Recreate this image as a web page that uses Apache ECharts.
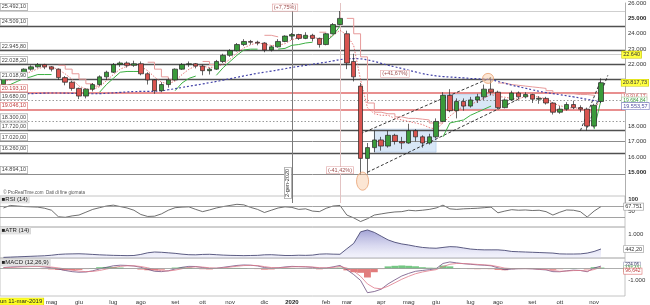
<!DOCTYPE html>
<html lang="it">
<head>
<meta charset="utf-8">
<title>FTSE MIB</title>
<script src="https://cdn.jsdelivr.net/npm/echarts@6.0.0/dist/echarts.min.js"></script>
<style>
html,body{margin:0;padding:0;background:#fff;overflow:hidden}
#chart{width:650px;height:305px}
</style>
</head>
<body>
<div id="chart"></div>
<script>
// ---------- DATA (weekly) ----------
const weeks = ['2019-03-11','2019-03-18','2019-03-25','2019-04-01','2019-04-08','2019-04-15','2019-04-22','2019-04-29','2019-05-06','2019-05-13','2019-05-20','2019-05-27','2019-06-03','2019-06-10','2019-06-17','2019-06-24','2019-07-01','2019-07-08','2019-07-15','2019-07-22','2019-07-29','2019-08-05','2019-08-12','2019-08-19','2019-08-26','2019-09-02','2019-09-09','2019-09-16','2019-09-23','2019-09-30','2019-10-07','2019-10-14','2019-10-21','2019-10-28','2019-11-04','2019-11-11','2019-11-18','2019-11-25','2019-12-02','2019-12-09','2019-12-16','2019-12-23','2019-12-30','2020-01-06','2020-01-13','2020-01-20','2020-01-27','2020-02-03','2020-02-10','2020-02-17','2020-02-24','2020-03-02','2020-03-09','2020-03-16','2020-03-23','2020-03-30','2020-04-06','2020-04-13','2020-04-20','2020-04-27','2020-05-04','2020-05-11','2020-05-18','2020-05-25','2020-06-01','2020-06-08','2020-06-15','2020-06-22','2020-06-29','2020-07-06','2020-07-13','2020-07-20','2020-07-27','2020-08-03','2020-08-10','2020-08-17','2020-08-24','2020-08-31','2020-09-07','2020-09-14','2020-09-21','2020-09-28','2020-10-05','2020-10-12','2020-10-19','2020-10-26','2020-11-02','2020-11-09'];
const padWeeks = ['2020-11-16','2020-11-23','2020-11-30'];

const opens = [20700,21100,21250,21350,21700,21850,22000,21850,21700,21150, 20850,20450,19950,20400,20700,21200,21500,22000,22100,21950, 22050,21400,21000,20300,20700,21000,21700,22000,22050,21900, 21600,21700,22200,22600,22900,23300,23500,23450,23400,22950, 23150,23500,23850,23950,23700,23900,23700,23300,24000,24600, 24000,22200,20600,15900,16600,17100,16700,17400,17000,16900, 17700,17300,16900,17300,18300,20000,19000,19600,19300,19700, 19900,20400,20200,19200,19700,20150,19900,20050,19750,19800, 19500,18900,19100,19400,19200,19100,18000,19600];
const closes = [21100,21250,21350,21700,21850,22000,21850,21700,21150,20850, 20450,19950,20400,20700,21200,21500,22000,22100,21950,22050, 21400,21000,20300,20700,21000,21700,22000,22050,21900,21600, 21700,22200,22600,22900,23300,23500,23450,23400,22950,23150, 23500,23850,23950,23700,23900,23700,23300,24000,24600,25000, 22100,21200,15900,16600,17100,16700,17400,17000,16900,17700, 17300,16900,17300,18300,20000,19000,19600,19300,19700,19900, 20400,20200,19200,19700,20150,19900,20050,19750,19800,19500, 18900,19100,19400,19200,19100,18000,19350,20817.73];
const lows = [20650,21000,21000,21300,21600,21800,21700,21550,21000,20650, 20300,19750,19800,20250,20600,21000,21450,21850,21800,21850, 21300,20700,20100,20200,20500,20950,21650,21850,21750,21300, 21350,21650,22100,22500,22850,23200,23300,23250,22800,22850, 23100,23450,23600,23600,23650,23500,23100,23250,23950,24550, 21700,20900,14850,14900,16300,16400,16600,16800,16500,16850, 17000,16600,16800,17200,18250,18900,18500,19000,19200,19500, 19700,20000,19100,19150,19650,19750,19800,19500,19450,19400, 18750,18800,19000,19100,18900,17700,17900,19500];
const highs = [21150,21400,21450,21750,21950,22100,22050,21900,21750,21250, 20950,20500,20450,20800,21300,21600,22100,22200,22200,22250, 22200,21500,21050,20850,21100,21750,22100,22200,22100,22000, 21800,22300,22700,23000,23400,23650,23600,23550,23450,23250, 23650,23900,24050,24000,24100,24000,23750,24050,24700,25480, 24200,22700,20800,16900,17700,17300,17700,17500,17300,18150, 17800,17400,17500,18500,20200,20400,19800,19800,19900,20100, 20700,21100,20300,19800,20300,20250,20200,20100,19950,19900, 19550,19300,19550,19650,19350,19200,19450,21100];

// trailing stop below price (green) and above price (red)
const trailUp = [20600,20700,20900,21100,21200,21350,21350,21350,null,null, null,null,null,null,20200,20700,21100,21500,21550,21550, 21550,null,null,null,null,20300,20800,21100,21250,null, null,21300,21800,22200,22600,22950,23000,23000,null,null, 23000,23050,23250,23300,23400,23450,null,23500,23900,24500, null,null,null,null,null,null,null,null,null,null, null,null,null,null,17300,18200,18300,18400,18700,18900, 19100,19300,null,null,null,null,null,null,null,null, null,null,null,null,null,null,17800,19684.84];
const trailDown = [null,null,null,null,null,null,null,null,21950,21700, 21400,21050,20750,20600,null,null,null,null,null,null, null,22150,21700,21200,21000,null,null,null,null,22200, 22000,null,null,null,null,null,null,null,23900,23800, null,null,null,null,null,null,24100,null,null,null, 25000,24000,22500,19500,18900,18800,18800,18600,18500,18500, 18450,18400,18200,18200,null,null,null,null,null,null, null,null,20800,20700,20650,20600,20550,20500,20450,20300, 20150,20100,20100,20050,20050,20000,null,null];
// short red dotted average
const maShort = [20900,21000,21100,21350,21540,21725,21850,21850,21675,21390, 21040,20600,20410,20375,20560,20950,21350,21700,21890,22025, 21875,21600,21190,20850,20750,20925,21350,21690,21910,21890, 21810,21850,22025,22350,22750,23075,23290,23410,23325,23240, 23250,23360,23610,23750,23850,23810,23650,23725,23900,24225, 23925,23225,21000,19200,18800,18700,18700,18500,18400,18300, 18200,18100,17900,17800,18200,18650,19000,19300,19400,19600, 19825,20050,19925,19875,19800,19740,19950,19960,19875,19775, 19490,19325,19225,19150,19200,18925,18910,19916.17];
// long blue dotted average
const maLong = [20020,20040,20070,20090,20110,20120,20140,20150,20150,20140, 20130,20120,20110,20100,20110,20130,20160,20190,20220,20240, 20250,20250,20260,20300,20360,20430,20510,20590,20660,20740, 20820,20900,20990,21080,21170,21260,21350,21430,21500,21570, 21650,21730,21810,21880,21950,22020,22090,22160,22240,22320, 22370,22380,22370,22300,22200,22080,21960,21850,21740,21630, 21520,21410,21330,21260,21220,21190,21160,21130,21100,21080, 21050,21020,20900,20780,20660,20560,20460,20360,20260,20180, 20110,20040,19970,19900,19820,19740,19660,19553.57];

const rsi = [63,72,70,68,67,66,62,55,32,30, 35,38,48,58,64,70,73,68,63,55, 40,33,34,42,55,64,66,67,58,50, 56,63,68,72,76,74,65,58,47,55, 63,67,65,58,60,52,50,62,70,72, 38,28,15,25,38,42,46,49,50,55, 53,55,58,63,73,60,58,60,61,62, 64,66,46,52,57,55,56,54,55,50, 38,48,56,55,50,31,52,67.751];
const atr = [130,140,150,160,170,180,190,210,240,255, 260,265,255,240,225,215,205,200,195,200, 240,300,330,320,300,280,250,230,225,240, 245,230,215,205,200,195,200,205,225,230, 215,200,200,210,205,215,250,260,250,245, 450,650,1080,1150,1060,920,780,690,630,590, 540,500,480,470,500,530,520,480,440,420, 410,410,410,390,350,340,330,320,310,300, 290,260,255,255,260,290,350,442.2];
const macd = [100,150,180,200,210,200,150,80,-30,-150, -250,-300,-280,-180,-20,120,250,300,280,230, 120,-50,-220,-250,-180,-20,120,200,190,100, 20,40,120,200,280,320,300,240,100,40, 80,150,200,180,160,120,40,60,160,280, -80,-500,-1000,-2050,-1950,-1750,-1300,-950,-620,-400, -220,-150,-80,0,450,580,500,430,380,330, 300,250,80,-80,-30,0,10,-10,-60,-100, -250,-260,-180,-120,-150,-260,60,224.06];
const macdSignal = [80,110,140,165,185,195,180,140,70,-20, -120,-200,-250,-230,-150,-30,100,200,250,250, 190,80,-70,-170,-190,-120,0,110,160,140, 80,50,80,140,210,270,290,270,180,100, 80,110,160,175,170,145,90,70,110,190, 60,-200,-650,-1300,-1650,-1720,-1500,-1200,-900,-650, -430,-280,-170,-80,180,380,450,440,410,370, 330,290,180,50,10,5,5,0,-30,-70, -160,-220,-200,-160,-150,-200,-70,127.42];
const macdHist = [20,40,40,35,25,5,-30,-60,-100,-130, -130,-100,-30,50,130,150,150,100,30,-20, -70,-130,-150,-80,10,100,120,90,30,-40, -60,-10,40,60,70,50,10,-30,-80,-60, 0,40,40,5,-10,-25,-50,-10,50,90, -140,-300,-350,-750,-300,-30,200,250,280,250, 210,130,90,80,270,200,50,-10,-30,-40, -30,-40,-100,-130,-40,-5,5,-10,-30,-30, -90,-40,20,40,0,-60,130,96.642];

// horizontal levels
const levelValues = [25492.10, 24509.10, 22945.80, 22640.00, 22028.20, 21018.90, 20193.10, 19680.00, 19046.10, 18300.00, 17720.00, 17020.00, 16260.00, 14894.10];
const levelTexts  = ['25.492,10','24.509,10','22.945,80','','22.028,20','21.018,90','20.193,10','19.680,00','19.046,10','18.300,00','17.720,00','17.020,00','16.260,00','14.894,10'];
const levelKinds  = ['light','dark','dark','light','dark','dark','red','dot','red','dot','dark','mid','dark','mid'];

// x-axis month ticks
const tickIdx  = [7,11,16,20,25,29,33,38,42,47,50,55,59,63,68,72,77,81,86];
const tickText = ['mag','giu','lug','ago','set','ott','nov','dic','2020','feb','mar','apr','mag','giu','lug','ago','set','ott','nov'];

// trend lines [fromIdx, fromVal, toIdx, toVal]
const trendLines = [[52,17500,71,21150],[53,15000,75,19750],[84,17700,87,21000],[85,17900,88,21300]];
const zones = [[54,17800,63,16300],[64,20050,72,19100]];

// ---------- CHART ----------
const FONT = '"Liberation Sans", Arial, sans-serif';
const cats = weeks.concat(padWeeks);
const ohlc = weeks.map((w,i)=>[opens[i],closes[i],lows[i],highs[i]]);

function itNum(v, dec){
  const s = Math.abs(v).toFixed(dec);
  let [a,b] = s.split('.');
  a = a.replace(/\B(?=(\d{3})+(?!\d))/g,'.');
  return (v<0?'-':'') + a + (b ? ','+b : '');
}
const styleOf = {
  dark:{color:'#505050',width:1.3,type:'solid'},
  mid:{color:'#8c8c8c',width:1,type:'solid'},
  light:{color:'#cfcfcf',width:1,type:'solid'},
  red:{color:'#e06a6a',width:1.5,type:'solid'},
  dot:{color:'#808080',width:0.8,type:[1.5,2]}
};

const chart = echarts.init(document.getElementById('chart'), null, {renderer:'canvas'});
const grids = [
  {left:0,right:25,top:0,height:203,show:false},
  {left:0,right:25,top:196,height:31,show:true,borderColor:'#b5b5b5',borderWidth:0.8,backgroundColor:'transparent'},
  {left:0,right:25,top:227,height:31,show:true,borderColor:'#b5b5b5',borderWidth:0.8,backgroundColor:'transparent'},
  {left:0,right:25,top:258,height:39,show:true,borderColor:'#b5b5b5',borderWidth:0.8,backgroundColor:'transparent'}
];
const xAxes = [0,1,2,3].map(i=>({
  type:'category', gridIndex:i, data:cats, boundaryGap:true,
  axisLine:{show:false}, axisTick:{show:false}, splitLine:{show:false},
  axisLabel: i===3 ? {
    show:true, interval:0, margin:3, fontSize:6, color:'#333', fontFamily:FONT,
    formatter:(v,idx)=>{const k=tickIdx.indexOf(idx); if(k<0) return ''; return tickText[k]==='2020' ? '{b|2020}' : tickText[k];},
    rich:{b:{fontWeight:'bold',fontSize:6,fontFamily:FONT,color:'#222'}}
  } : {show:false}
}));
const yAxes = [
  {type:'value', gridIndex:0, position:'right', min:13000, max:26000, interval:1000, scale:true,
   axisLine:{show:true,lineStyle:{color:'#9a9a9a',width:0.8}}, axisTick:{show:false}, splitLine:{show:false},
   axisLabel:{margin:3, fontSize:6, color:'#333', fontFamily:FONT,
     formatter:v=>{ if(v<15000||v===19000||v===21000) return ''; return v%5000===0 ? '{b|'+itNum(v,0)+'}' : itNum(v,0); },
     rich:{b:{fontWeight:'bold',fontSize:6,fontFamily:FONT,color:'#222'}}}},
  {type:'value', gridIndex:1, position:'right', min:-4.3, max:105.4, axisLine:{show:false}, axisTick:{show:false}, splitLine:{show:false}, axisLabel:{show:false}},
  {type:'value', gridIndex:2, position:'right', min:107, max:1260, axisLine:{show:false}, axisTick:{show:false}, splitLine:{show:false}, axisLabel:{show:false}},
  {type:'value', gridIndex:3, position:'right', min:-2333, max:917, axisLine:{show:false}, axisTick:{show:false}, splitLine:{show:false}, axisLabel:{show:false}}
];

const markLineData = [];
levelValues.forEach((v,i)=>markLineData.push({yAxis:v, lineStyle:styleOf[levelKinds[i]]}));
markLineData.push({xAxis:weeks[42], lineStyle:{color:'#7a7a7a',width:1,type:'solid'}});
markLineData.push({xAxis:weeks[49], lineStyle:{color:'#e3c3c3',width:1,type:'solid'}});
trendLines.forEach(t=>markLineData.push([
  {coord:[cats[t[0]],t[1]], lineStyle:{color:'#222',width:0.9,type:[3,2]}},
  {coord:[cats[t[2]],t[3]]}
]));

const option = {
  animation:false,
  textStyle:{fontFamily:FONT},
  grid:grids, xAxis:xAxes, yAxis:yAxes,
  series:[
    {type:'candlestick', name:'FTSE MIB', xAxisIndex:0, yAxisIndex:0, data:ohlc, barWidth:5, z:5,
     itemStyle:{color:'#3a9a3a', color0:'#d9534f', borderColor:'#262626', borderColor0:'#262626', borderWidth:0.7},
     markLine:{symbol:['none','none'], silent:true, animation:false, label:{show:false}, z:2, data:markLineData},
     markArea:{silent:true, itemStyle:{color:'rgba(178,208,240,0.5)', borderColor:'rgba(130,170,220,0.7)', borderWidth:0.5},
       data:zones.map(z=>[{coord:[cats[z[0]],z[1]]},{coord:[cats[z[2]],z[3]]}])}},
    {type:'line', name:'maShort', xAxisIndex:0, yAxisIndex:0, data:maShort, symbol:'none', z:4,
     lineStyle:{color:'#e05555', width:0.8, type:[1.5,1.5]}},
    {type:'line', name:'trailDown', xAxisIndex:0, yAxisIndex:0, data:trailDown, symbol:'none', step:'end', z:4,
     lineStyle:{color:'#e79a9a', width:1}},
    {type:'line', name:'trailUp', xAxisIndex:0, yAxisIndex:0, data:trailUp, symbol:'none', z:4,
     lineStyle:{color:'#3cb043', width:1}},
    {type:'line', name:'maLong', xAxisIndex:0, yAxisIndex:0, data:maLong, symbol:'none', smooth:true, z:4,
     lineStyle:{color:'#4444a8', width:1.2, type:[2,2]}},
    {type:'line', name:'RSI', xAxisIndex:1, yAxisIndex:1, data:rsi, symbol:'none',
     lineStyle:{color:'#4a4a4a', width:0.8},
     markLine:{symbol:['none','none'], silent:true, label:{show:false}, data:[{yAxis:70},{yAxis:30}], lineStyle:{color:'#8a8a8a',width:0.8,type:'solid'}}},
    {type:'line', name:'ATR', xAxisIndex:2, yAxisIndex:2, data:atr, symbol:'none',
     lineStyle:{color:'#4b4b75', width:0.9},
     areaStyle:{origin:'start', color:new echarts.graphic.LinearGradient(0,0,0,1,[{offset:0,color:'rgba(100,100,185,0.85)'},{offset:1,color:'rgba(215,215,245,0.4)'}])}},
    {type:'bar', name:'hist', xAxisIndex:3, yAxisIndex:3, data:macdHist, barCategoryGap:'0%', z:2,
     itemStyle:{color:p=>p.value>=0?'rgba(70,180,90,0.75)':'rgba(215,80,80,0.75)'}},
    {type:'line', name:'MACD', xAxisIndex:3, yAxisIndex:3, data:macd, symbol:'none', z:3,
     lineStyle:{color:'#6d4f80', width:0.8},
     markLine:{symbol:['none','none'], silent:true, label:{show:false}, data:[{yAxis:0}], lineStyle:{color:'#999',width:0.8,type:'solid'}}},
    {type:'line', name:'Signal', xAxisIndex:3, yAxisIndex:3, data:macdSignal, symbol:'none', z:3,
     lineStyle:{color:'#e07a8a', width:0.8}}
  ]
};
chart.setOption(option);

// ---------- labels & annotations placed through the chart scales ----------
const yPx = (axis,v)=>chart.convertToPixel({yAxisIndex:axis}, v);
const xPx = i=>chart.convertToPixel({xAxisIndex:0}, cats[i]);
const g = [];
function box(x,y,text,o){
  o = o||{};
  g.push({type:'text', x:x, y:y, z:100, silent:true, rotation:o.rot||0,
    style:{text:text, font:(o.bold?'bold ':'')+(o.size||5.5)+'px '+FONT, fill:o.color||'#333',
      backgroundColor:o.bg===undefined?'#fff':o.bg, borderColor:o.border===undefined?'#9a9a9a':o.border,
      borderWidth:o.bw===undefined?0.6:o.bw, padding:o.pad||[0.5,1.2,0,1.2],
      align:o.align||'left', verticalAlign:'middle'}});
}
// left level labels (sit on top of their line)
levelValues.forEach((v,i)=>{
  if(!levelTexts[i]) return;
  const red = levelKinds[i]==='red';
  box(0.5, yPx(0,v)-4, levelTexts[i], {border:red?'#dd7070':'#9a9a9a', color:red?'#c04040':'#444'});
});
// right value boxes
box(622, yPx(0,22640), '22.640', {bg:'#ffff40', border:'#c8c800', size:5.5});
box(621.5, yPx(0,closes[closes.length-1]), itNum(closes[closes.length-1],2), {bg:'#ffff40', border:'#c8c800', size:5.5});
box(622, yPx(0,maShort[maShort.length-1]), itNum(maShort[maShort.length-1],2), {color:'#d05a5a', border:'#e0a0a0', size:5});
box(622, yPx(0,trailUp[trailUp.length-1]), itNum(trailUp[trailUp.length-1],2), {color:'#3a9a3a', border:'#9fd09f', size:5});
box(622, yPx(0,maLong[maLong.length-1])+4, itNum(maLong[maLong.length-1],2), {color:'#5050a0', border:'#7070b8', size:5.5});
// RSI labels
box(627, yPx(1,100)+1.5, '100', {bg:null, border:null, bw:0, bold:true, size:6});
box(627, yPx(1,50), '50', {bg:null, border:null, bw:0, size:6});
box(624, yPx(1,rsi[rsi.length-1]), itNum(rsi[rsi.length-1],3).replace(',', '.'), {size:5.5});
// ATR labels
box(627, yPx(2,1000), '1.000', {bg:null, border:null, bw:0, size:6});
box(624, yPx(2,atr[atr.length-1]), itNum(atr[atr.length-1],2), {size:5.5});
// MACD labels
box(624, yPx(3,macd[macd.length-1])-1, itNum(macd[macd.length-1],2), {color:'#303060', border:'#9a9aba', size:4.5});
box(624, yPx(3,macdSignal[macdSignal.length-1])+1.5, itNum(macdSignal[macdSignal.length-1],2), {color:'#3a9a3a', border:'#9fd09f', size:4.5});
box(624, yPx(3,macdHist[macdHist.length-1])+3.5, itNum(macdHist[macdHist.length-1],3), {color:'#c04040', border:'#dd7070', size:5});
box(627, yPx(3,-1000), '-1.000', {bg:null, border:null, bw:0, size:6});
// percentage annotations
box(xPx(41), yPx(0,25700), '(+7,75%)', {align:'center', color:'#a05050', border:'#e0a0a0', size:5.5});
box(xPx(49), yPx(0,15130), '(-41,42%)', {align:'center', color:'#a05050', border:'#e0a0a0', size:5.5});
box(xPx(57), yPx(0,21400), '(+41,67%)', {align:'center', color:'#a05050', border:'#e0a0a0', size:5.5});
// circles on the extremes
g.push({type:'ellipse', z:90, silent:true, shape:{cx:xPx(52)+2, cy:yPx(0,14420), rx:6, ry:9},
  style:{fill:'rgba(248,200,160,0.45)', stroke:'#e8a070', lineWidth:0.8}});
g.push({type:'ellipse', z:90, silent:true, shape:{cx:xPx(71)-3, cy:yPx(0,21100), rx:5.5, ry:5},
  style:{fill:'rgba(248,200,160,0.45)', stroke:'#e8a070', lineWidth:0.8}});
// vertical date label
box(xPx(42)-4, yPx(0,14300), '2-gen-2020', {rot:Math.PI/2, align:'center', size:5.5, border:'#888'});
// watermark
box(2, 192.5, '\u00a9 ProRealTime.com  Dati di fine giornata', {bg:null, border:null, bw:0, size:4.5, color:'#555'});
// panel titles
box(0.5, 199.5, '\u25a0RSI (14)', {bg:'#e4e4e4', border:'#cfcfcf', size:6, color:'#222'});
box(0.5, 230.5, '\u25a0ATR (14)', {bg:'#e4e4e4', border:'#cfcfcf', size:6, color:'#222'});
box(0.5, 262.5, '\u25a0MACD (12,26,9)', {bg:'#e4e4e4', border:'#cfcfcf', size:6, color:'#222'});
// start date box
box(-2.5, 301.5, 'lun 11-mar-2019', {bg:'#ffff20', border:'#d0d000', size:6, color:'#222'});
chart.setOption({graphic:g});
</script>
</body>
</html>
